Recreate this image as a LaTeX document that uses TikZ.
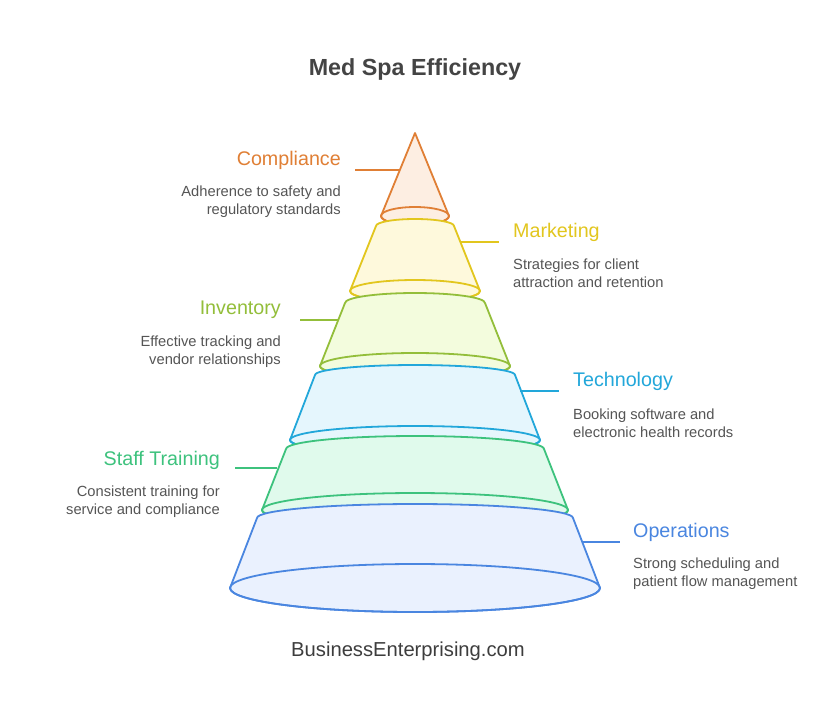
\documentclass[tikz,border=0pt]{standalone}
\usepackage{fontspec}
\setmainfont{Liberation Sans}
\usepackage{tikz}
\definecolor{titlegray}{HTML}{444444}
\definecolor{txtgray}{HTML}{555555}
\definecolor{compline}{HTML}{E07F35}
\definecolor{compfill}{HTML}{FDEEE2}
\definecolor{markline}{HTML}{E2C61E}
\definecolor{markfill}{HTML}{FEF9DC}
\definecolor{invline}{HTML}{93BE3A}
\definecolor{invfill}{HTML}{F3FCDD}
\definecolor{techline}{HTML}{22A7DA}
\definecolor{techfill}{HTML}{E5F6FD}
\definecolor{staffline}{HTML}{3DC27D}
\definecolor{stafffill}{HTML}{E0FAEC}
\definecolor{opsline}{HTML}{4A86E0}
\definecolor{opsfill}{HTML}{EAF1FE}
\tikzset{
  layer/.style={line width=1.8pt, line join=round},
  lead/.style={line width=1.8pt},
  head/.style={font=\fontsize{19.7}{22}\selectfont, inner sep=0pt},
  desc/.style={font=\fontsize{14.7}{18}\selectfont, text=txtgray, inner sep=0pt}
}

\begin{document}
\begin{tikzpicture}[x=1pt,y=1pt]
\useasboundingbox [fill=white] (0,0) rectangle (837,-710);
\node [font=\bfseries\fontsize{23.3}{26}\selectfont, text=titlegray] (title) at (415,-69) {Med Spa Efficiency};
% compliance
\draw [layer, draw=compline, fill=compfill] (415,-133) -- (449,-216) arc[start angle=0, end angle=-180, x radius=34, y radius=9] -- cycle;
\draw [layer, draw=compline] (415,-216) ellipse [x radius=34, y radius=9];
% marketing
\draw [layer, draw=markline, fill=markfill] (376,-226) arc[start angle=180, end angle=0, x radius=39, y radius=7] -- (480,-291) arc[start angle=0, end angle=-180, x radius=65, y radius=11] -- cycle;
\draw [layer, draw=markline] (415,-291) ellipse [x radius=65, y radius=11];
% inventory
\draw [layer, draw=invline, fill=invfill] (345,-303) arc[start angle=180, end angle=0, x radius=70, y radius=10] -- (510,-366) arc[start angle=0, end angle=-180, x radius=95, y radius=13] -- cycle;
\draw [layer, draw=invline] (415,-366) ellipse [x radius=95, y radius=13];
% technology
\draw [layer, draw=techline, fill=techfill] (315,-375) arc[start angle=180, end angle=0, x radius=100, y radius=10] -- (540,-440) arc[start angle=0, end angle=-180, x radius=125, y radius=14] -- cycle;
\draw [layer, draw=techline] (415,-440) ellipse [x radius=125, y radius=14];
% staff training
\draw [layer, draw=staffline, fill=stafffill] (286,-449) arc[start angle=180, end angle=0, x radius=129, y radius=13] -- (568,-510) arc[start angle=0, end angle=-180, x radius=153, y radius=17] -- cycle;
\draw [layer, draw=staffline] (415,-510) ellipse [x radius=153, y radius=17];
% operations
\draw [layer, draw=opsline, fill=opsfill] (257,-518) arc[start angle=180, end angle=0, x radius=158, y radius=14] -- (600,-588) arc[start angle=0, end angle=-180, x radius=185, y radius=24] -- cycle;
\draw [layer, draw=opsline] (415,-588) ellipse [x radius=185, y radius=24];
% leaders
\coordinate (comp-a) at (355,-170); \coordinate (comp-b) at (400,-170);
\coordinate (mark-a) at (460,-242); \coordinate (mark-b) at (499,-242);
\coordinate (inv-a) at (300,-320); \coordinate (inv-b) at (338,-320);
\coordinate (tech-a) at (520,-391); \coordinate (tech-b) at (559,-391);
\coordinate (staff-a) at (235,-468); \coordinate (staff-b) at (277,-468);
\coordinate (ops-a) at (582,-542); \coordinate (ops-b) at (620,-542);
\draw [lead, compline] (comp-a) -- (comp-b);
\draw [lead, markline] (mark-a) -- (mark-b);
\draw [lead, invline] (inv-a) -- (inv-b);
\draw [lead, techline] (tech-a) -- (tech-b);
\draw [lead, staffline] (staff-a) -- (staff-b);
\draw [lead, opsline] (ops-a) -- (ops-b);
% labels
\node [head, text=compline, anchor=east] (comp-h) at (341,-160) {Compliance};
\node [desc, anchor=east, align=right] (comp-d) at (341,-202) {Adherence to safety and\\regulatory standards};
\node [head, text=markline, anchor=west] (mark-h) at (513,-232) {Marketing};
\node [desc, anchor=west, align=left] (mark-d) at (513,-273) {Strategies for client\\attraction and retention};
\node [head, text=invline, anchor=east] (inv-h) at (281,-310) {Inventory};
\node [desc, anchor=east, align=right] (inv-d) at (281,-352) {Effective tracking and\\vendor relationships};
\node [head, text=techline, anchor=west] (tech-h) at (573,-381) {Technology};
\node [desc, anchor=west, align=left] (tech-d) at (573,-423) {Booking software and\\electronic health records};
\node [head, text=staffline, anchor=east] (staff-h) at (220,-460) {Staff Training};
\node [desc, anchor=east, align=right] (staff-d) at (220,-502) {Consistent training for\\service and compliance};
\node [head, text=opsline, anchor=west] (ops-h) at (633,-532) {Operations};
\node [desc, anchor=west, align=left] (ops-d) at (633,-574) {Strong scheduling and\\patient flow management};
\node [font=\fontsize{20.2}{23}\selectfont, text=titlegray!90!black] (site) at (408,-651) {BusinessEnterprising.com};
\end{tikzpicture}
\end{document}
